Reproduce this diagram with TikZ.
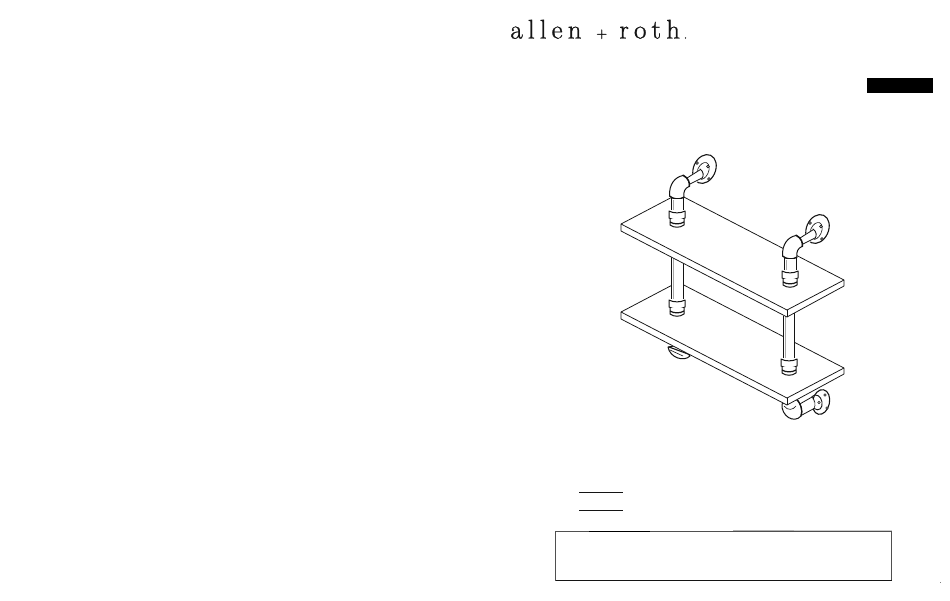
\documentclass[tikz,border=0pt]{standalone}
\usepackage{fontspec}
\newfontfamily\logofont[LetterSpace=19,FakeBold=1]{Latin Modern Roman}
\definecolor{ink}{gray}{0.08}
\tikzset{
  edge/.style={draw=ink,line width=0.75pt,line join=round},
  shelf/.style={edge,fill=white},
  heavy/.style={draw=ink,line width=1pt,fill=white,line join=round,line cap=round},
  fine/.style={draw=ink,line width=0.6pt,line cap=round},
  pipeside/.style={draw=ink,line width=0.8pt,line cap=round},
  shade/.style={draw=gray!70,line width=0.5pt},
  logotext/.style={anchor=base west,inner sep=0pt,text=ink,font=\logofont\fontsize{27}{27}\selectfont},
  collar/.pic={
    % threaded coupling centred on the pipe axis; origin at its top
    \fill[white] (-8,-1) rectangle (8,16);
    \draw[heavy] (-8,0) .. controls (-4,2.5) and (4,2.5) .. (8,0) -- (8,7)
      .. controls (4,9.5) and (-4,9.5) .. (-8,7) -- cycle;
    \draw[heavy] (-7,8) -- (-7,14) .. controls (-3,17) and (3,17) .. (7,14) -- (7,8);
    \draw[draw=ink,line width=1.2pt] (-7,11) .. controls (-3,13.5) and (3,13.5) .. (7,11);
  },
  topfitting/.pic={
    % origin at the axis of the vertical pipe, at the foot of the fitting
    % flange
    \draw[heavy,line width=1.1pt,rotate around={-24:(27.5,-57)}] (27.5,-57) ellipse (11 and 15);
    \draw[fine,fill=white,rotate around={-24:(26,-55)}] (26,-55) ellipse (5.5 and 9);
    \foreach \a/\b in {20/-63,31/-59.5,32/-47,19.5/-49}
      \draw[fine,fill=white] (\a,\b) circle (1.4);
    % horizontal pipe
    \fill[white] (8,-47) -- (23,-57) -- (26,-48) -- (12,-39) -- cycle;
    \draw[pipeside] (10,-48) -- (23.5,-56.5);
    \draw[pipeside] (11,-41) -- (25,-48);
    \draw[heavy,line width=0.9pt] (23,-57) .. controls (26.5,-55) and (27,-50) .. (25,-47.5);
    % elbow
    \draw[heavy] (-7.5,-30) .. controls (-8,-42) and (-2,-49) .. (6,-50.5)
       .. controls (11,-48) and (13,-43) .. (12,-39.5)
       .. controls (8,-38) and (6,-34) .. (7,-29)
       .. controls (3,-26.5) and (-3,-26.5) .. (-7.5,-30) -- cycle;
    \draw[draw=ink,line width=1.25pt,line cap=round] (6,-51) .. controls (11,-48.5) and (13.5,-43) .. (12.5,-39.5);
    \draw[draw=ink,line width=1.1pt] (-7.5,-30) .. controls (-3,-26) and (3,-26) .. (7.2,-29);
    % vertical pipe
    \fill[white] (-6,-27) rectangle (6,-14);
    \draw[pipeside] (-6,-28) -- (-6,-14);
    \draw[pipeside] (6,-28) -- (6,-14);
    \draw[shade] (-4,-26) -- (-4,-15);
    \path (0,-15) pic {collar};
  },
  shelfboard/.pic={
    % origin at the left corner of the top face
    \path[shelf] (0,0) -- (57,-30) -- (223,56) -- (223,62) -- (166,93) -- (0,7) -- cycle;
    \draw[edge] (0,0) -- (166,86) -- (223,56);
    \draw[edge] (166,86) -- (166,93);
  },
}
\begin{document}
\begin{tikzpicture}[x=1pt,y=-1pt,line width=0.75pt]
\useasboundingbox (0,0) rectangle (950,600);
\fill[white] (0,0) rectangle (950,600);

\node[logotext] (logoa) at (510,38.5) {allen};
\node[logotext,font=\logofont\fontsize{15}{15}\selectfont] (logob) at (596,38) {+};
\node[logotext] (logoc) at (619,38.5) {roth};
\node[logotext,font=\logofont\fontsize{12}{12}\selectfont] (logod) at (683.5,38.5) {.};

\node[fill=black,inner sep=0pt,minimum width=66pt,minimum height=15pt,anchor=north west] (tab) at (867,78) {};

% lower fittings behind the bottom shelf
\draw[heavy] (668,347) .. controls (670,358) and (684,362) .. (690,356) -- (680,345) -- cycle;
\draw[fine] (670,350) -- (683,356);
\draw[fine,line width=1.1pt] (669,347) -- (688,354);
% lower right flange, hub, pipe and elbow
\draw[heavy,line width=1.1pt,rotate around={-12:(821,402)}] (821,402) ellipse (8.5 and 12.5);
\draw[fine,fill=white] (825,395) circle (1.2) (827,408) circle (1.2);
\fill[white] (798,405) -- (812,396.5) -- (815,408) -- (802,415) -- cycle;
\draw[pipeside] (798,405) -- (812,397);
\draw[pipeside] (802,415) -- (814,408.5);
\draw[fine,line width=0.9pt] (812,396.5) .. controls (816,393) and (821,396) .. (822,402)
   .. controls (823,408) and (819,412) .. (814,408.5);
\draw[fine] (812,397) .. controls (815,400) and (816,405) .. (814,408.5);
\draw[fine,fill=white] (819,402.5) circle (1.2);
\draw[heavy] (782,404) .. controls (781,416) and (794,424) .. (801,416)
  .. controls (803,410) and (800,402) .. (796,398) -- (786,402) -- cycle;
\draw[fine,line width=1.2pt] (795,398) .. controls (801,403) and (803.5,411) .. (801,416);
\draw[fine] (784,406) .. controls (788,411) and (793,410) .. (796,406);

% bottom shelf
\path (621,312) pic {shelfboard};

% posts between the shelves
\fill[white] (671,250) rectangle (683,300);
\draw[pipeside] (671,255) -- (671,299) (683,262) -- (683,299);
\draw[shade] (673,256) -- (673,299);
\path (677,300) pic {collar};
\fill[white] (783.5,310) rectangle (794.5,360);
\draw[pipeside] (783.5,316) -- (783.5,359) (794,312) -- (794,359);
\draw[shade] (785.5,316) -- (785.5,359);
\path (789,359) pic {collar};

% top shelf
\path (621,224) pic {shelfboard};

% wall fittings above the top shelf
\path (677,226) pic {topfitting};
\path (790,286) pic {topfitting};

% blank rules and box
\coordinate (r1a) at (579,492); \coordinate (r1b) at (623,492);
\coordinate (r2a) at (579,510); \coordinate (r2b) at (623,510);
\draw[ink,line width=1pt] (r1a) -- (r1b);
\draw[ink,line width=1pt] (r2a) -- (r2b);
\draw[ink!75,line width=1pt] (555.5,531) rectangle (891.5,580.5);
\draw[ink,line width=1pt] (555.5,580.5) -- (891.5,580.5);
\draw[black,line width=1pt] (589,531) -- (650,531);
\draw[gray!60,line width=1.2pt] (733,530.5) -- (794,530.5);
\draw[gray!40,line width=1.2pt] (794,530.5) -- (891.5,530.5);
\fill[gray] (939.6,581.6) rectangle (940.4,582.6);
\end{tikzpicture}
\end{document}
